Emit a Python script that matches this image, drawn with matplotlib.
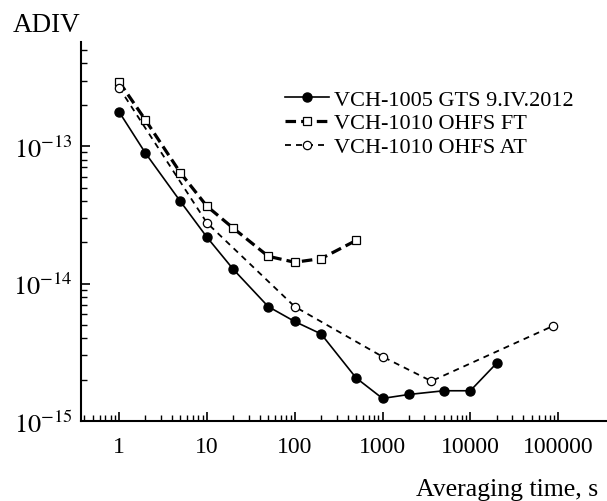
import matplotlib
matplotlib.use("Agg")
import matplotlib.pyplot as plt
from matplotlib.ticker import LogLocator, NullFormatter, FixedLocator, FixedFormatter

plt.rcParams["font.family"] = ["Liberation Serif", "DejaVu Serif"]
plt.rcParams["mathtext.fontset"] = "stix"

# VCH-1005 GTS 9.IV.2012 (filled circles)
gts_tau = [1, 2, 5, 10, 20, 50, 100, 200, 500, 1000, 2000, 5000, 10000, 20000]
gts_adev = [1.78e-13, 8.9e-14, 3.96e-14, 2.18e-14, 1.27e-14, 6.8e-15, 5.3e-15,
            4.3e-15, 2.06e-15, 1.46e-15, 1.56e-15, 1.66e-15, 1.66e-15, 2.64e-15]

# VCH-1010 OHFS FT (open squares)
ft_tau = [1, 2, 5, 10, 20, 50, 100, 200, 500]
ft_adev = [2.95e-13, 1.55e-13, 6.4e-14, 3.66e-14, 2.53e-14, 1.58e-14, 1.43e-14,
           1.52e-14, 2.06e-14]

# VCH-1010 OHFS AT (open circles)
at_tau = [1, 10, 100, 1000, 3600, 86400]
at_adev = [2.67e-13, 2.77e-14, 6.8e-15, 2.94e-15, 1.95e-15, 4.9e-15]

xticks = [1, 10, 100, 1000, 10000, 100000]
xtick_labels = ["1", "10", "100", "1000", "10000", "100000"]
yticks = [1e-15, 1e-14, 1e-13]
ytick_labels = [r"$10^{-15}$", r"$10^{-14}$", r"$10^{-13}$"]

fig = plt.figure(figsize=(6.07, 5.02), dpi=100)
ax = fig.add_axes([80.7 / 607, 1 - 422 / 502, 1 - 80.7 / 607, (422 - 42.7) / 502])

ax.plot(gts_tau, gts_adev, color="black", lw=1.2, marker="o", ms=6.5,
        mfc="black", mec="black", label="VCH-1005 GTS 9.IV.2012", zorder=3)
ax.plot(ft_tau, ft_adev, color="black", lw=2.3, dashes=(3.3, 1.6), marker="s",
        ms=5.2, mfc="white", mec="black", mew=0.9, label="VCH-1010 OHFS FT", zorder=3)
ax.plot(at_tau, at_adev, color="black", lw=1.3, dashes=(3.3, 2.8), marker="o",
        ms=6, mfc="white", mec="black", mew=0.9, label="VCH-1010 OHFS AT", zorder=3)

ax.set_xscale("log")
ax.set_yscale("log")
ax.set_xlim(0.366, 3.6e5)
ax.set_ylim(1e-15, 5.76e-13)

ax.xaxis.set_major_locator(FixedLocator(xticks))
ax.xaxis.set_major_formatter(FixedFormatter(xtick_labels))
ax.xaxis.set_minor_locator(LogLocator(base=10, subs=range(2, 10), numticks=20))
ax.xaxis.set_minor_formatter(NullFormatter())
ax.yaxis.set_major_locator(FixedLocator(yticks))
ax.yaxis.set_major_formatter(FixedFormatter(ytick_labels))
ax.yaxis.set_minor_locator(LogLocator(base=10, subs=range(2, 10), numticks=20))
ax.yaxis.set_minor_formatter(NullFormatter())

# hide minor x ticks past 100000 (the original stops there)
for t, tick in zip(ax.xaxis.get_minorticklocs(), ax.xaxis.get_minor_ticks()):
    if t > 1e5:
        tick.tick1line.set_visible(False)

for s in ["top", "right"]:
    ax.spines[s].set_visible(False)
for s in ["left", "bottom"]:
    ax.spines[s].set_linewidth(1.5)

ax.tick_params(which="major", direction="in", length=6.5, width=1.2,
               top=False, right=False)
ax.tick_params(which="minor", direction="in", length=4, width=1.0,
               top=False, right=False)
ax.tick_params(axis="x", which="major", pad=11, labelsize=17)
ax.tick_params(axis="y", which="major", pad=6, labelsize=19)

leg = ax.legend(loc="upper left", bbox_to_anchor=(285 / 607, 1 - 90 / 502),
                bbox_transform=fig.transFigure, frameon=False, fontsize=16,
                handlelength=2.0, handletextpad=0.2, labelspacing=0.15,
                borderaxespad=0, borderpad=0)

fig.text(13 / 607, 1 - 32 / 502, "ADIV", fontsize=19.5, ha="left", va="baseline")
fig.text(598 / 607, 1 - 496.5 / 502, "Averaging time, s", fontsize=18.5,
         ha="right", va="baseline")

fig.savefig("out.png", dpi=100)
